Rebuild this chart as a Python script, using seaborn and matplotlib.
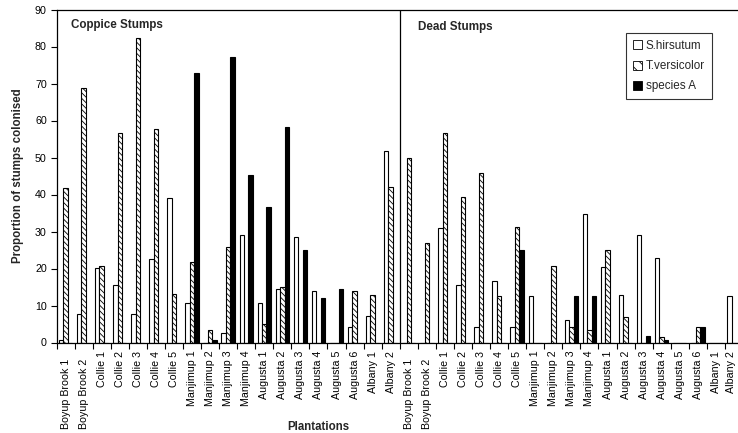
import matplotlib
matplotlib.use("Agg")
import matplotlib.pyplot as plt
import matplotlib.transforms as mtransforms
from matplotlib.patches import Patch
import numpy as np
import pandas as pd
import seaborn as sns

# Plantation sites (same list for coppice and dead stumps)
sites = ["Boyup Brook 1", "Boyup Brook 2", "Collie 1", "Collie 2", "Collie 3",
         "Collie 4", "Collie 5", "Manjimup 1", "Manjimup 2", "Manjimup 3",
         "Manjimup 4", "Augusta 1", "Augusta 2", "Augusta 3", "Augusta 4",
         "Augusta 5", "Augusta 6", "Albany 1", "Albany 2"]

species = ["S.hirsutum", "T.versicolor", "species A"]

# Proportion of stumps colonised (%), coppice stumps
coppice_shirsutum = [0.8, 7.7, 20.1, 15.6, 7.7, 22.5, 39.1, 10.6, 0.0, 2.6,
                     29.0, 10.6, 14.4, 28.4, 13.9, 0.0, 4.1, 7.2, 51.8]
coppice_tversicolor = [41.8, 68.8, 20.8, 56.7, 82.3, 57.7, 13.2, 21.7, 3.4, 25.8,
                       0.0, 5.0, 15.1, 0.0, 0.0, 0.0, 13.9, 12.9, 42.0]
coppice_speciesA = [0.0, 0.0, 0.0, 0.0, 0.0, 0.0, 0.0, 72.8, 0.7, 77.1,
                    45.4, 36.6, 58.2, 25.0, 12.1, 14.5, 0.0, 0.0, 0.0]

# Proportion of stumps colonised (%), dead stumps
dead_shirsutum = [0.0, 0.0, 31.0, 15.6, 4.1, 16.6, 4.1, 12.5, 0.0, 6.1,
                  34.8, 20.5, 12.9, 29.1, 22.9, 0.0, 0.0, 0.0, 12.5]
dead_tversicolor = [49.9, 26.8, 56.6, 39.3, 45.8, 12.6, 31.2, 0.0, 20.6, 4.1,
                    3.5, 24.9, 7.0, 0.0, 1.4, 0.0, 4.1, 0.0, 0.0]
dead_speciesA = [0.0, 0.0, 0.0, 0.0, 0.0, 0.0, 24.9, 0.0, 0.0, 12.5,
                 12.5, 0.0, 0.0, 1.8, 0.7, 0.0, 4.1, 0.0, 0.0]

# Long-form table for seaborn
rows = []
for group, vals in (("Coppice", (coppice_shirsutum, coppice_tversicolor, coppice_speciesA)),
                    ("Dead", (dead_shirsutum, dead_tversicolor, dead_speciesA))):
    for sp, series in zip(species, vals):
        for site, v in zip(sites, series):
            rows.append({"key": f"{group}|{site}", "site": site,
                         "species": sp, "value": v})
df = pd.DataFrame(rows)
order = [f"Coppice|{s}" for s in sites] + [f"Dead|{s}" for s in sites]

sns.set_theme(style="white")
plt.rcParams["font.family"] = ["Liberation Sans", "DejaVu Sans"]
plt.rcParams["hatch.linewidth"] = 0.6
plt.rcParams["hatch.color"] = "black"

fig = plt.figure(figsize=(7.38, 4.33), dpi=100)
ax = fig.add_axes([56.5 / 738, 1 - 342.5 / 433, 686.5 / 738, 333 / 433])

palette = {"S.hirsutum": "white", "T.versicolor": "white", "species A": "black"}
sns.barplot(data=df, x="key", y="value", hue="species", order=order,
            hue_order=species, palette=palette, width=0.74, gap=0,
            edgecolor="black", linewidth=0.8, errorbar=None, legend=False,
            saturation=1, ax=ax)

hatch = "\\" * 6
for patch in ax.containers[1]:
    patch.set_hatch(hatch)

n = len(order)
ax.set_xlim(-0.5, n - 0.5)
ax.set_ylim(0, 90)
ax.set_yticks(np.arange(0, 91, 10))
ax.tick_params(axis="y", labelsize=7.7, length=4, width=0.8, direction="out",
               left=True, pad=3, colors="black")

# Tick marks between categories; site names written under each category
ax.set_xticks(np.arange(-0.5, n, 1.0))
ax.set_xticklabels([])
ax.tick_params(axis="x", which="major", length=4, width=0.8, direction="out",
               bottom=True, color="black")
ax.set_xlabel("")

base = mtransforms.blended_transform_factory(ax.transData, ax.transAxes)
labels = sites + sites
for i, site in enumerate(labels):
    drop = 11.5 if site.startswith("Boyup") else 6.0
    shift = -2.0 if i == len(labels) - 1 else 0.0
    tr = mtransforms.offset_copy(base, fig=fig, x=shift, y=-drop, units="points")
    ax.text(i, 0, site, transform=tr, rotation=90, ha="center", va="top",
            fontsize=7.7, color="black")

for side in ("left", "bottom", "top", "right"):
    ax.spines[side].set_color("black")
    ax.spines[side].set_linewidth(0.9)
    ax.spines[side].set_visible(True)

# Separator between coppice and dead stumps
ax.axvline(len(sites) - 0.5, color="black", linewidth=0.9)

ax.text((71 - 56.5) / 686.5, 1 - (25 - 9.5) / 333, "Coppice Stumps",
        transform=ax.transAxes, fontsize=8.4, fontweight="bold",
        ha="left", va="center")
ax.text((418 - 56.5) / 686.5, 1 - (27 - 9.5) / 333, "Dead Stumps",
        transform=ax.transAxes, fontsize=8.4, fontweight="bold",
        ha="left", va="center")

ax.set_ylabel("Proportion of stumps colonised", fontsize=8.3, fontweight="bold",
              labelpad=8)
fig.text(318 / 738, 1 - 427 / 433, "Plantations", fontsize=8.3,
         fontweight="bold", ha="center", va="center")

handles = [Patch(facecolor="white", edgecolor="black", linewidth=0.6),
           Patch(facecolor="white", edgecolor="black", linewidth=0.6, hatch="\\\\\\"),
           Patch(facecolor="black", edgecolor="black", linewidth=0.6)]
leg = fig.legend(handles, species, loc="upper left",
                 bbox_to_anchor=(626 / 738, 1 - 33 / 433), fontsize=8.4,
                 frameon=True, fancybox=False, handlelength=0.8,
                 handleheight=0.8, handletextpad=0.3, labelspacing=0.7,
                 borderpad=0.6, borderaxespad=0)
leg.get_frame().set_edgecolor("black")
leg.get_frame().set_linewidth(0.8)

fig.savefig("out.png", dpi=100)
